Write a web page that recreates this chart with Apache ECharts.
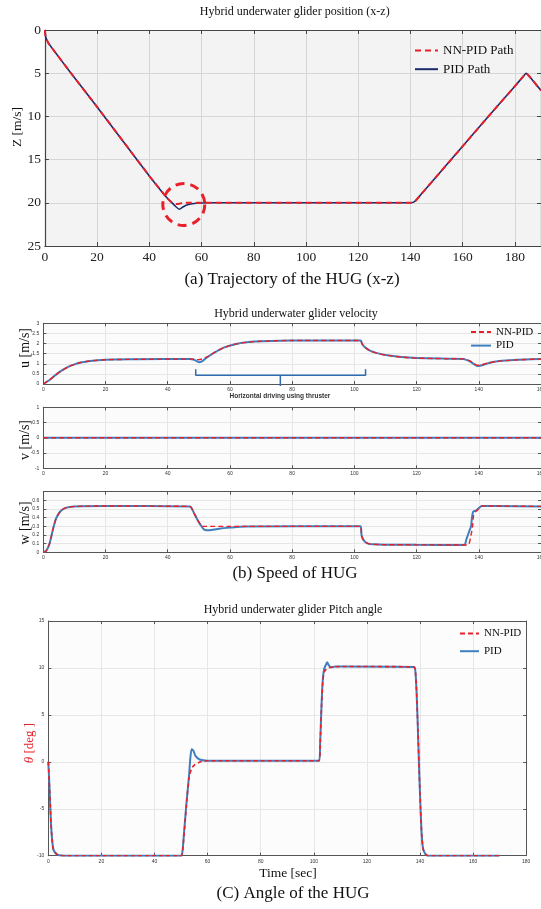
<!DOCTYPE html>
<html>
<head>
<meta charset="utf-8">
<script src="https://cdn.jsdelivr.net/npm/echarts@6/dist/echarts.min.js"></script>
<style>
html,body{margin:0;padding:0;background:#fff;}
#chart{width:541px;height:909px;}
</style>
</head>
<body>
<div id="chart"></div>
<script>
// ---------- (a) trajectory x-z ----------
const pathPidX = [0,0.3,1.3,3,10,20,30,40,45,47,48.5,50,51.5,53,55,58,62,100,140,141,142,143,144,150,160,170,180,183,184.3,185.5,187,190];
const pathPidZ = [0,0.8,1.5,2.2,5.0,8.9,12.9,16.9,18.8,19.5,19.95,20.4,20.75,20.45,20.2,20.05,20,20,20,19.95,19.75,19.4,19.05,16.95,13.45,9.95,6.5,5.45,5.0,5.35,5.9,7.0];
const pathNnX  = [0,0.3,1.3,3,10,20,30,40,45,47,48.5,50,51.5,53,62,100,140,141,142,143,144,150,160,170,180,183,184.3,185.5,187,190];
const pathNnZ  = [0,0.8,1.5,2.2,5.0,8.9,12.9,16.9,18.8,19.5,19.95,20.15,20.1,20.0,20,20,20,19.95,19.75,19.4,19.05,16.95,13.45,9.95,6.5,5.45,5.0,5.35,5.9,7.0];
const circleMark = [53.2, 20.2];

// ---------- (b) velocities ----------
const uPidT = [0,2,4,6,8,10,12,15,20,30,47,48.5,50,51,52.5,55,58,62,66,70,80,102,102.5,103.5,105,107,110,115,120,130,135,137,138.5,139.5,141,143,146,150,155,160];
const uPid  = [0,0.2,0.45,0.67,0.85,0.97,1.06,1.14,1.2,1.22,1.24,1.2,1.08,1.12,1.3,1.55,1.8,1.98,2.07,2.11,2.15,2.15,1.98,1.8,1.65,1.54,1.43,1.33,1.28,1.25,1.24,1.13,0.98,0.89,0.93,1.03,1.12,1.17,1.21,1.23];
const uNnT  = [0,2,4,6,8,10,12,15,20,30,47,48.5,50,51,52.5,55,58,62,66,70,80,102,102.5,103.5,105,107,110,115,120,130,135,137,138.5,139.5,141,143,146,150,155,160];
const uNn   = [0,0.2,0.45,0.67,0.85,0.97,1.06,1.14,1.2,1.22,1.24,1.22,1.2,1.24,1.33,1.56,1.8,1.98,2.07,2.11,2.15,2.15,1.98,1.8,1.65,1.54,1.43,1.33,1.28,1.25,1.24,1.15,1.0,0.92,0.95,1.04,1.12,1.17,1.21,1.23];
const vT    = [0,20,40,60,80,100,120,140,160];
const vPid  = [0,0,0,0,0,0,0,0,0];
const vNn   = [0,0,0,0,0,0,0,0,0];
const wPidT = [0,1,2,3,4,5,6,7,8,10,20,47,47.5,48.5,49.5,50.5,51.5,52.5,54,56,60,65,102,102.3,102.8,103.5,104.5,106,110,120,135.3,136,137,137.5,137.8,138.2,139,140,141,145,160];
const wPid  = [0,0.02,0.1,0.25,0.38,0.45,0.49,0.51,0.52,0.53,0.535,0.53,0.52,0.45,0.38,0.32,0.27,0.255,0.258,0.27,0.285,0.298,0.3,0.2,0.15,0.12,0.1,0.092,0.088,0.086,0.085,0.15,0.25,0.3,0.4,0.47,0.48,0.51,0.535,0.535,0.53];
const wNnT  = [0,1,2,3,4,5,6,7,8,10,20,47,47.5,48.5,49.5,50.5,51,60,102,102.3,102.8,103.5,104.5,106,110,120,136.4,137.5,138,138.3,139,140,141,145,160];
const wNn   = [0,0.02,0.1,0.25,0.38,0.45,0.49,0.51,0.52,0.53,0.535,0.53,0.52,0.45,0.38,0.32,0.3,0.3,0.3,0.2,0.15,0.12,0.1,0.092,0.088,0.086,0.085,0.2,0.3,0.42,0.47,0.5,0.535,0.535,0.53];
// bracket annotation (time, u)
const bracketT = [49,49,103.6,103.6];
const bracketU = [0.73,0.43,0.43,0.73];
const bracketStemT = [76.2,76.2];
const bracketStemU = [0.43,-0.1];

// ---------- (c) pitch ----------
const pPidT = [0,0.5,1,1.5,2,3,4,6,50,50.5,51,52,53,53.5,54,54.6,55.5,57,60,102,102.4,102.9,103.4,103.9,104.5,105,105.6,106.5,108,110,137.6,138.2,138.7,139.2,139.7,140.2,140.7,141.2,142,143,170];
const pPid  = [0,-3,-6.5,-8.5,-9.4,-9.8,-9.95,-10,-10,-9.6,-8,-4.5,-1.5,0.4,1.35,1.2,0.6,0.25,0.12,0.12,2,6,8.8,9.9,10.3,10.6,10.3,10.05,10.15,10.15,10.1,9.8,7.5,3.5,-1,-5,-8,-9.3,-9.8,-10,-10];
const pNnT  = [0,0.5,1,1.5,2,3,4,6,50,50.5,51,52,53,54,55,56.5,58,60,102,102.4,102.9,103.4,104,105,106,108,110,137.6,138.2,138.7,139.2,139.7,140.2,140.7,141.2,142,143,170];
const pNn   = [0,-3,-6.5,-8.5,-9.4,-9.8,-9.95,-10,-10,-9.7,-8.2,-4.7,-1.7,-0.7,-0.35,-0.1,0.05,0.12,0.12,2,5.8,8.6,9.6,9.95,10.05,10.12,10.15,10.12,9.8,7.5,3.5,-1,-5,-8,-9.3,-9.8,-10,-10];

const zip = (a, b) => a.map((v, i) => [v, b[i]]);

const SERIF = '"Liberation Serif","DejaVu Serif",serif';
const SANS = '"Liberation Sans",Arial,sans-serif';

const gridBase = {show: true, borderWidth: 0, containLabel: false, outerBoundsMode: 'none'};
const grids = [
  Object.assign({left: 44.9, top: 30, width: 496.1, height: 216, backgroundColor: '#f3f3f3'}, gridBase),
  Object.assign({left: 43.3, top: 323.3, width: 497.7, height: 60.7, backgroundColor: '#fbfbfb'}, gridBase),
  Object.assign({left: 43.3, top: 407.3, width: 497.7, height: 61, backgroundColor: '#fbfbfb'}, gridBase),
  Object.assign({left: 43.3, top: 491.7, width: 497.7, height: 60.6, backgroundColor: '#fbfbfb'}, gridBase),
  Object.assign({left: 48.3, top: 621, width: 477.9, height: 234.7, backgroundColor: '#fcfcfc'}, gridBase)
];

const xAxes = [], yAxes = [];
function addAxes(g, xr, yr, o) {
  const lineC = o.lineColor, tickLen = o.tickLen;
  const lbl = {fontSize: o.fs, fontFamily: o.ff, color: o.lc, margin: o.margin, showMaxLabel: o.showMaxX};
  xAxes.push({type: 'value', gridIndex: g, min: xr[0], max: xr[1], interval: xr[2], position: 'bottom',
    axisLine: {show: true, onZero: false, lineStyle: {color: lineC, width: o.lw}},
    axisTick: {show: true, inside: true, length: tickLen, lineStyle: {color: lineC}},
    axisLabel: lbl,
    splitLine: {show: true, lineStyle: {color: o.gridC, width: o.gw}}});
  xAxes.push({type: 'value', gridIndex: g, min: xr[0], max: xr[1], interval: xr[2], position: 'top',
    axisLine: {show: true, onZero: false, lineStyle: {color: lineC, width: o.lw}},
    axisTick: {show: true, inside: true, length: tickLen, lineStyle: {color: lineC}},
    axisLabel: {show: false}, splitLine: {show: false}});
  yAxes.push({type: 'value', gridIndex: g, min: yr[0], max: yr[1], interval: yr[2], position: 'left', inverse: !!o.inv,
    axisLine: {show: true, onZero: false, lineStyle: {color: lineC, width: o.lw}},
    axisTick: {show: true, inside: true, length: tickLen, lineStyle: {color: lineC}},
    axisLabel: {fontSize: o.fs, fontFamily: o.ff, color: o.lc, margin: o.ymargin, showMaxLabel: o.showMaxY},
    splitLine: {show: true, lineStyle: {color: o.gridC, width: o.gw}}});
  yAxes.push({type: 'value', gridIndex: g, min: yr[0], max: yr[1], interval: yr[2], position: 'right', inverse: !!o.inv,
    axisLine: {show: true, onZero: false, lineStyle: {color: lineC, width: o.lw}},
    axisTick: {show: true, inside: true, length: tickLen, lineStyle: {color: lineC}},
    axisLabel: {show: false}, splitLine: {show: false}});
  return {x: xAxes.length - 2, y: yAxes.length - 2};
}

const small = {fs: 5, ff: SANS, lc: '#333', margin: 3, ymargin: 4, lineColor: '#555', lw: 1, tickLen: 3, gridC: '#e6e6e6', gw: 1, showMaxX: true, showMaxY: true};
const A = addAxes(0, [0, 190, 20], [0, 25, 5], {fs: 13.5, ff: SERIF, lc: '#222', margin: 4, ymargin: 4, lineColor: '#444', lw: 1.2, tickLen: 4, gridC: '#d6d6d6', gw: 1, inv: true, showMaxX: false, showMaxY: true});
const U = addAxes(1, [0, 160, 20], [0, 3, 0.5], small);
const V = addAxes(2, [0, 160, 20], [-1, 1, 0.5], small);
const W = addAxes(3, [0, 160, 20], [0, 0.7, 0.1], Object.assign({}, small, {showMaxY: false}));
const C = addAxes(4, [0, 180, 20], [-10, 15, 5], small);

const RED = '#e8202a';
const NAVY = '#1c2a6a';
const BLUE = '#3f7fbf';

function line(name, ax, data, color, width, dashed, extra) {
  return Object.assign({
    name, type: 'line', xAxisIndex: ax.x, yAxisIndex: ax.y, data, showSymbol: false, symbol: 'none',
    smooth: 0.25, animation: false,
    lineStyle: {color, width, type: dashed ? [5, 3] : 'solid'},
    itemStyle: {color}
  }, extra || {});
}

const series = [
  line('PID Path', A, zip(pathPidX, pathPidZ), NAVY, 1.6, false, {smooth: 0.15}),
  line('NN-PID Path', A, zip(pathNnX, pathNnZ), RED, 2, true, {
    smooth: 0.15,
    lineStyle: {color: RED, width: 2, type: [6, 4]},
    markPoint: {symbol: 'circle', symbolSize: 42, silent: true, label: {show: false},
      itemStyle: {color: 'rgba(0,0,0,0)', borderColor: RED, borderWidth: 3, borderType: [9, 6]},
      data: [{coord: circleMark}]}
  }),
  line('PID', U, zip(uPidT, uPid), BLUE, 2, false),
  line('NN-PID', U, zip(uNnT, uNn), RED, 1.4, true),
  line('PID', V, zip(vT, vPid), BLUE, 2, false),
  line('NN-PID', V, zip(vT, vNn), RED, 1.4, true),
  line('PID', W, zip(wPidT, wPid), BLUE, 2, false),
  line('NN-PID', W, zip(wNnT, wNn), RED, 1.4, true),
  line('bracket', U, zip(bracketT, bracketU), '#2e6bb0', 1.5, false, {smooth: false, clip: false}),
  line('bracket', U, zip(bracketStemT, bracketStemU), '#2e6bb0', 1.5, false, {smooth: false, clip: false}),
  line('PID', C, zip(pPidT, pPid), BLUE, 2, false),
  line('NN-PID', C, zip(pNnT, pNn), RED, 1.6, true, {lineStyle: {color: RED, width: 1.6, type: [4, 3]}})
];

function txt(x, y, s, size, opts) {
  return Object.assign({type: 'text', x, y, silent: true,
    style: Object.assign({text: s, fontSize: size, fontFamily: SERIF, fill: '#111', align: 'center', verticalAlign: 'middle'}, (opts && opts.style) || {})},
    opts && opts.rotation !== undefined ? {rotation: opts.rotation} : {});
}

const graphics = [
  txt(294.7, 12, 'Hybrid underwater glider position (x-z)', 12),
  txt(292, 280, '(a) Trajectory of the HUG (x-z)', 17),
  txt(17, 127, 'Z [m/s]', 13.5, {rotation: Math.PI / 2}),
  txt(296, 314, 'Hybrid underwater glider velocity', 12),
  txt(25, 348, 'u [m/s]', 14, {rotation: Math.PI / 2}),
  txt(25, 440, 'v [m/s]', 14, {rotation: Math.PI / 2}),
  txt(25, 523, 'w [m/s]', 14, {rotation: Math.PI / 2}),
  txt(280, 396, 'Horizontal driving using thruster', 6.5, {style: {fontFamily: SANS, fontWeight: 'bold', fill: '#333'}}),
  txt(295, 574, '(b) Speed of HUG', 17),
  txt(293, 610, 'Hybrid underwater glider Pitch angle', 12),
  {type: 'text', x: 30, y: 743, rotation: Math.PI / 2, silent: true,
    style: {text: '{i|θ} [deg ]', fontSize: 13, fontFamily: SERIF, fill: RED, align: 'center', verticalAlign: 'middle',
      rich: {i: {fontStyle: 'italic', fontSize: 13, fontFamily: SERIF, fill: RED}}}},
  txt(288, 873, 'Time [sec]', 13.5),
  txt(293, 894, '(C) Angle of the HUG', 17)
];

const legendItem = {opacity: 0};
const option = {
  animation: false,
  backgroundColor: '#ffffff',
  grid: grids,
  xAxis: xAxes,
  yAxis: yAxes,
  legend: [
    {data: ['NN-PID Path', 'PID Path'], orient: 'vertical', left: 414, top: 44, padding: 0, itemWidth: 23, itemHeight: 10, itemGap: 5.7,
      itemStyle: legendItem, textStyle: {fontFamily: SERIF, fontSize: 13, color: '#111'}, selectedMode: false},
    {data: ['NN-PID', 'PID'], orient: 'vertical', left: 470, top: 326.5, padding: 0, itemWidth: 20, itemHeight: 9, itemGap: 2.6,
      itemStyle: legendItem, textStyle: {fontFamily: SERIF, fontSize: 11, color: '#111'}, selectedMode: false},
    {data: ['NN-PID', 'PID'], orient: 'vertical', left: 459, top: 628, padding: 0, itemWidth: 19, itemHeight: 10, itemGap: 6.7,
      itemStyle: legendItem, textStyle: {fontFamily: SERIF, fontSize: 11, color: '#111'}, selectedMode: false}
  ],
  series,
  graphic: graphics
};

const chart = echarts.init(document.getElementById('chart'), null, {renderer: 'canvas'});
chart.setOption(option);
</script>
</body>
</html>
